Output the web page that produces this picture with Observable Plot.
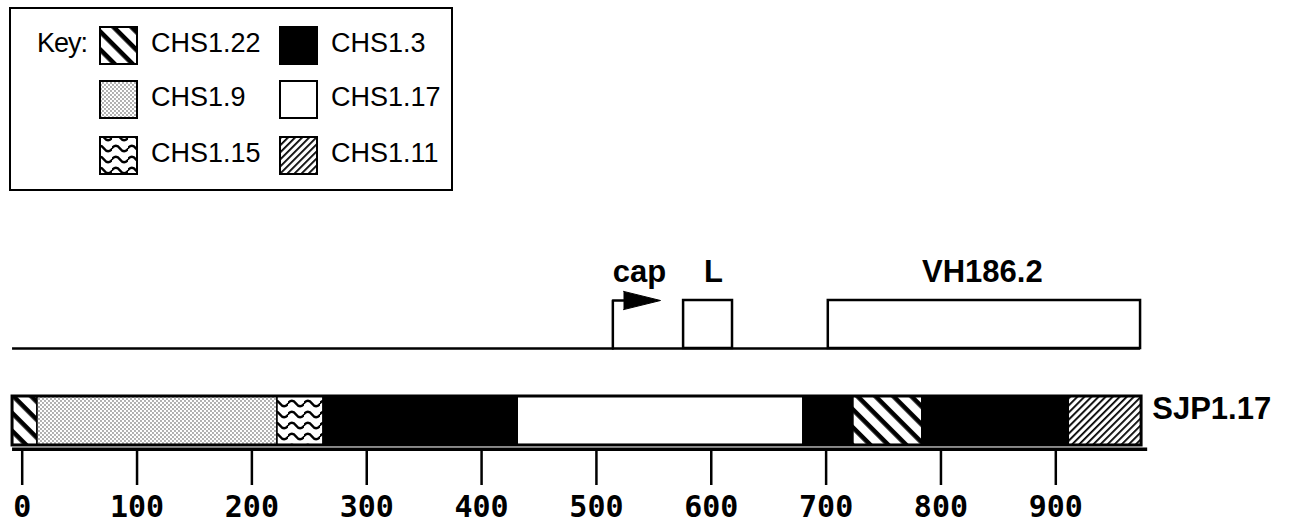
<!DOCTYPE html>
<html><head><meta charset="utf-8">
<script src="https://cdn.jsdelivr.net/npm/d3@7"></script>
<script src="https://cdn.jsdelivr.net/npm/@observablehq/plot@0.6"></script>
<style>
html,body{margin:0;padding:0;background:#fff;}
#chart svg{display:block;}
</style></head><body><div id="chart"></div>
<script>
// ---------- data ----------
const ticks = [0, 100, 200, 300, 400, 500, 600, 700, 800, 900];
const segClone = ["CHS1.22", "CHS1.9", "CHS1.15", "CHS1.3", "CHS1.17", "CHS1.3", "CHS1.22", "CHS1.3", "CHS1.11"];
const segStart = [-8.4, 13.3, 222.3, 262.4, 431.5, 680.2, 723.8, 783.8, 911.3];
const segEnd   = [13.3, 222.3, 262.4, 431.5, 680.2, 723.8, 783.8, 911.3, 974.7];
const keyClones = ["CHS1.22", "CHS1.3", "CHS1.9", "CHS1.17", "CHS1.15", "CHS1.11"];
const featureNames = ["L", "VH186.2"];
const featureStart = [575.9, 701.9];
const featureEnd = [618.5, 973.8];
const capStart = 514.3, capArrowBase = 523.6, capArrowTip = 555.8;
const labelText = ["cap", "L", "VH186.2"];
const labelPos = [537.5, 602, 836];
const mapExtent = [-8.4, 973.8];
const axisExtent = [-8.4, 980];
const cloneName = "SJP1.17";
const cloneLabelPos = 984;

// ---------- patterns ----------
const safe = c => c.replace(/\./g, "_");
function fillFor(clone, prefix) {
  if (clone === "CHS1.3") return "black";
  if (clone === "CHS1.17") return "white";
  return `url(#${prefix}-${safe(clone)})`;
}
function addPatterns(svg, prefix) {
  const defs = svg.insert("defs", ":first-child");
  // CHS1.22 : thick backslash hatch
  let p = defs.append("pattern").attr("id", `${prefix}-${safe("CHS1.22")}`)
    .attr("patternUnits", "userSpaceOnUse").attr("width", 12).attr("height", 12.7)
    .attr("patternTransform", "rotate(45)");
  p.append("rect").attr("width", 12).attr("height", 12.7).attr("fill", "white");
  p.append("rect").attr("width", 12).attr("height", 4.6).attr("fill", "black");
  // CHS1.11 : thin dense forward-slash hatch
  p = defs.append("pattern").attr("id", `${prefix}-${safe("CHS1.11")}`)
    .attr("patternUnits", "userSpaceOnUse").attr("width", 6).attr("height", 5)
    .attr("patternTransform", "rotate(-45)");
  p.append("rect").attr("width", 6).attr("height", 5).attr("fill", "white");
  p.append("rect").attr("width", 6).attr("height", 1.8).attr("fill", "black");
  // CHS1.9 : stipple
  p = defs.append("pattern").attr("id", `${prefix}-${safe("CHS1.9")}`)
    .attr("patternUnits", "userSpaceOnUse").attr("width", 4).attr("height", 4);
  p.append("rect").attr("width", 4).attr("height", 4).attr("fill", "white");
  p.append("circle").attr("cx", 1).attr("cy", 1).attr("r", 0.65).attr("fill", "#222");
  p.append("circle").attr("cx", 3).attr("cy", 3).attr("r", 0.65).attr("fill", "#222");
  // CHS1.15 : wavy lines
  p = defs.append("pattern").attr("id", `${prefix}-${safe("CHS1.15")}`)
    .attr("patternUnits", "userSpaceOnUse").attr("width", 16).attr("height", 11);
  p.append("rect").attr("width", 16).attr("height", 11).attr("fill", "white");
  p.append("path").attr("d", "M-0.5,5.5 Q4,0 8,5.5 T16.5,5.5").attr("fill", "none")
    .attr("stroke", "black").attr("stroke-width", 2.4);
}

const root = d3.select("#chart");

// ---------- legend (above the plot) ----------
const legend = root.append("svg").attr("width", 1292).attr("height", 200)
  .style("font-family", "'Liberation Sans', Arial, sans-serif").style("display", "block");
addPatterns(legend, "k");
legend.append("rect").attr("x", 10).attr("y", 8).attr("width", 442).attr("height", 182)
  .attr("fill", "white").attr("stroke", "black").attr("stroke-width", 2);
legend.append("text").attr("x", 37).attr("y", 52).attr("font-size", 27)
  .attr("letter-spacing", -1).attr("fill", "black").text("Key:");
const colX = [100, 280], rowY = [27, 81, 137];
keyClones.forEach((c, i) => {
  const x = colX[i % 2], y = rowY[Math.floor(i / 2)];
  legend.append("rect").attr("x", x).attr("y", y).attr("width", 37).attr("height", 37)
    .attr("fill", fillFor(c, "k")).attr("stroke", "black").attr("stroke-width", 2);
  legend.append("text").attr("x", x + 51).attr("y", y + 25).attr("font-size", 27)
    .attr("fill", "black").text(c);
});

// ---------- plot ----------
const segs = segClone.map((c, i) => ({clone: c, start: segStart[i], end: segEnd[i]}));
const features = featureNames.map((n, i) => ({name: n, start: featureStart[i], end: featureEnd[i]}));
const labels = labelText.map((t, i) => ({text: t, x: labelPos[i]}));
const capPath = [{x: capStart, y: 0}, {x: capStart, y: 1}, {x: capArrowBase, y: 1}];
const ARROW_H = 0.19;
const capHead = [{x: capArrowBase, y: 1 + ARROW_H}, {x: capArrowTip, y: 1}, {x: capArrowBase, y: 1 - ARROW_H}];
const Y_BAR_TOP = -1.0, Y_BAR_BOT = -2.02, Y_AXIS = -2.098, Y_LABEL = 1.39, Y_CLONE = -1.465;

const chart = Plot.plot({
  width: 1292, height: 326,
  marginTop: 0, marginRight: 0, marginLeft: 0, marginBottom: 77,
  style: {fontFamily: "'Liberation Sans', Arial, sans-serif", background: "white", color: "black", overflow: "visible"},
  x: {domain: [0, 900], range: [21.7, 1055.3], axis: null, label: null},
  y: {domain: [0, 1], range: [148, 100], axis: null, label: null},
  color: {type: "identity"},
  marks: [
    Plot.ruleY([0], {x1: mapExtent[0], x2: mapExtent[1], stroke: "black", strokeWidth: 2.5}),
    Plot.line(capPath, {x: "x", y: "y", stroke: "black", strokeWidth: 2.5}),
    Plot.line(capHead, {x: "x", y: "y", fill: "black", stroke: "black", strokeWidth: 1}),
    Plot.rect(features, {x1: "start", x2: "end", y1: 0, y2: 1, fill: "white", stroke: "black", strokeWidth: 2.5}),
    Plot.text(labels, {x: "x", y: Y_LABEL, text: "text", fontSize: 31, fontWeight: "bold", lineAnchor: "bottom", fill: "black"}),
    Plot.rect(segs, {x1: "start", x2: "end", y1: Y_BAR_BOT, y2: Y_BAR_TOP, fill: d => fillFor(d.clone, "b"), stroke: "black", strokeWidth: 1.5}),
    Plot.rect([cloneName], {x1: segStart[0], x2: segEnd[segEnd.length - 1], y1: Y_BAR_BOT, y2: Y_BAR_TOP, fill: "none", stroke: "black", strokeWidth: 3}),
    Plot.text([cloneName], {x: cloneLabelPos, y: Y_CLONE, text: d => d, textAnchor: "start", lineAnchor: "bottom", fontSize: 31, fontWeight: "bold", fill: "black"}),
    Plot.ruleY([Y_AXIS], {x1: axisExtent[0], x2: axisExtent[1], stroke: "black", strokeWidth: 3.5}),
    Plot.axisX(ticks, {anchor: "bottom", label: null, tickSize: 36, tickPadding: 10, strokeWidth: 2.5,
      fontSize: 30, fontWeight: "bold", fontFamily: "'DejaVu Sans Mono', monospace", tickFormat: d => String(d)})
  ]
});
addPatterns(d3.select(chart), "b");
root.node().appendChild(chart);
</script>
</body></html>
